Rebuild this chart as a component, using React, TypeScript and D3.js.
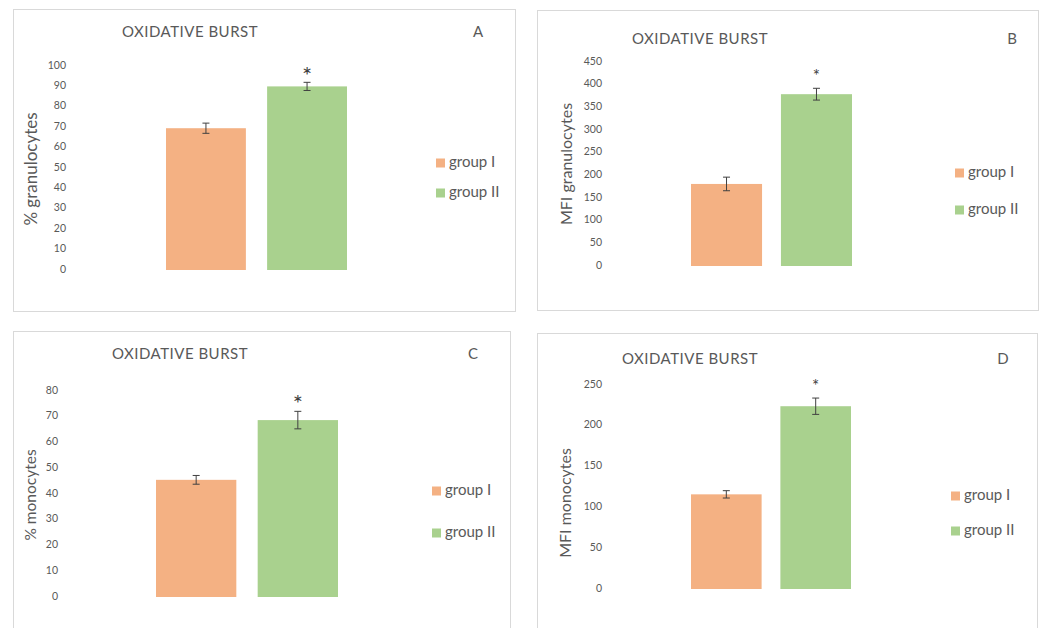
import React from "react";
import * as d3 from "d3";

const categories = ["group I", "group II"];
const colors = ["#F4B183", "#A9D18E"];

const titleText = "OXIDATIVE BURST";

const valuesA = [69.5, 90];
const errorsA = [2.5, 2];
const ticksA = [0, 10, 20, 30, 40, 50, 60, 70, 80, 90, 100];

const valuesB = [181, 379];
const errorsB = [15, 13];
const ticksB = [0, 50, 100, 150, 200, 250, 300, 350, 400, 450];

const valuesC = [45.5, 68.7];
const errorsC = [1.7, 3.4];
const ticksC = [0, 10, 20, 30, 40, 50, 60, 70, 80];

const valuesD = [116, 224];
const errorsD = [4.5, 10];
const ticksD = [0, 50, 100, 150, 200, 250];

const FONT = "Lato, 'Open Sans', sans-serif";
const GRAY = "#595959";

type PanelProps = {
  values: number[];
  errors: number[];
  ticks: number[];
  yLabel: string;
  letter: string;
  box: [number, number, number, number];
  titleX: number;
  titleY: number;
  letterX: number;
  yTop: number;
  yBottom: number;
  xRange: [number, number];
  tickX: number;
  labelX: number;
  labelY: number;
  labelSize: number;
  legendX: number;
  legendY: [number, number];
  starSize: number;
  starGap: number;
};

function Panel(p: PanelProps) {
  const yMax = p.ticks[p.ticks.length - 1];
  const y = d3.scaleLinear().domain([0, yMax]).range([p.yBottom, p.yTop]);
  const x = d3.scaleBand<string>().domain(categories).range(p.xRange).paddingInner(0.21).paddingOuter(0);
  const bw = x.bandwidth();
  const [bx, by, bwid, bh] = p.box;
  const starCenter = y(p.values[1] + p.errors[1]) - p.starGap;
  return (
    <g>
      <rect x={bx} y={by} width={bwid} height={bh} fill="#fff" stroke="#d9d9d9" strokeWidth={1} />
      <text x={p.titleX} y={p.titleY} fontSize={15} letterSpacing={0.5} fill={GRAY} fontFamily={FONT} textAnchor="middle" dominantBaseline="middle">
        {titleText}
      </text>
      <text x={p.letterX} y={p.titleY} fontSize={15} fill={GRAY} fontFamily={FONT} textAnchor="middle" dominantBaseline="middle">
        {p.letter}
      </text>
      {p.ticks.map((t) => (
        <text key={t} x={p.tickX} y={y(t)} fontSize={10.5} fill={GRAY} fontFamily={FONT} textAnchor="end" dominantBaseline="middle">
          {t}
        </text>
      ))}
      <text
        transform={`translate(${p.labelX},${p.labelY}) rotate(-90)`}
        fontSize={p.labelSize}
        fill={GRAY}
        fontFamily={FONT}
        textAnchor="middle"
        dominantBaseline="middle"
      >
        {p.yLabel}
      </text>
      {categories.map((c, i) => {
        const x0 = x(c) as number;
        const cx = x0 + bw / 2;
        const v = p.values[i];
        const e = p.errors[i];
        return (
          <g key={c}>
            <rect x={x0} y={y(v)} width={bw} height={y(0) - y(v)} fill={colors[i]} />
            <line x1={cx} x2={cx} y1={y(v + e)} y2={y(v - e)} stroke="#404040" strokeWidth={1} />
            <line x1={cx - 3.5} x2={cx + 3.5} y1={y(v + e)} y2={y(v + e)} stroke="#404040" strokeWidth={1} />
            <line x1={cx - 3.5} x2={cx + 3.5} y1={y(v - e)} y2={y(v - e)} stroke="#404040" strokeWidth={1} />
          </g>
        );
      })}
      <text
        x={(x(categories[1]) as number) + bw / 2}
        y={starCenter + p.starSize * 0.55}
        fontSize={p.starSize}
        fill="#404040"
        fontFamily={FONT}
        textAnchor="middle"
      >
        *
      </text>
      {categories.map((c, i) => (
        <g key={"lg" + c}>
          <rect x={p.legendX} y={p.legendY[i] - 4.5} width={9} height={9} fill={colors[i]} />
          <text x={p.legendX + 13} y={p.legendY[i]} fontSize={15} fill={GRAY} fontFamily={FONT} dominantBaseline="middle">
            {c}
          </text>
        </g>
      ))}
    </g>
  );
}

export default function App() {
  return (
    <svg width={1041} height={628} style={{ position: "absolute", left: 0, top: 0, background: "#fff" }}>
      <rect x={0} y={0} width={1041} height={628} fill="#fff" />
      <Panel
        values={valuesA}
        errors={errorsA}
        ticks={ticksA}
        yLabel="% granulocytes"
        letter="A"
        box={[13.5, 9.5, 502, 302]}
        titleX={190}
        titleY={33}
        letterX={478}
        yTop={66}
        yBottom={270}
        xRange={[166, 347]}
        tickX={66}
        labelX={33}
        labelY={169}
        labelSize={17}
        legendX={436}
        legendY={[163, 193]}
        starSize={24}
        starGap={12}
      />
      <Panel
        values={valuesB}
        errors={errorsB}
        ticks={ticksB}
        yLabel="MFI granulocytes"
        letter="B"
        box={[537.5, 10.5, 501, 300]}
        titleX={700}
        titleY={40}
        letterX={1012}
        yTop={62}
        yBottom={266}
        xRange={[691, 852]}
        tickX={602}
        labelX={568}
        labelY={164}
        labelSize={16}
        legendX={955}
        legendY={[173, 210]}
        starSize={17}
        starGap={16}
      />
      <Panel
        values={valuesC}
        errors={errorsC}
        ticks={ticksC}
        yLabel="% monocytes"
        letter="C"
        box={[13.5, 331.5, 497, 320]}
        titleX={180}
        titleY={355}
        letterX={473}
        yTop={391}
        yBottom={597}
        xRange={[156, 338]}
        tickX={58}
        labelX={32}
        labelY={495}
        labelSize={15.5}
        legendX={432}
        legendY={[491, 533]}
        starSize={24}
        starGap={13}
      />
      <Panel
        values={valuesD}
        errors={errorsD}
        ticks={ticksD}
        yLabel="MFI monocytes"
        letter="D"
        box={[537.5, 333.5, 500, 320]}
        titleX={690}
        titleY={360}
        letterX={1003}
        yTop={385}
        yBottom={589}
        xRange={[691, 851]}
        tickX={602}
        labelX={567}
        labelY={503}
        labelSize={16}
        legendX={951}
        legendY={[496, 531]}
        starSize={17}
        starGap={15}
      />
    </svg>
  );
}
